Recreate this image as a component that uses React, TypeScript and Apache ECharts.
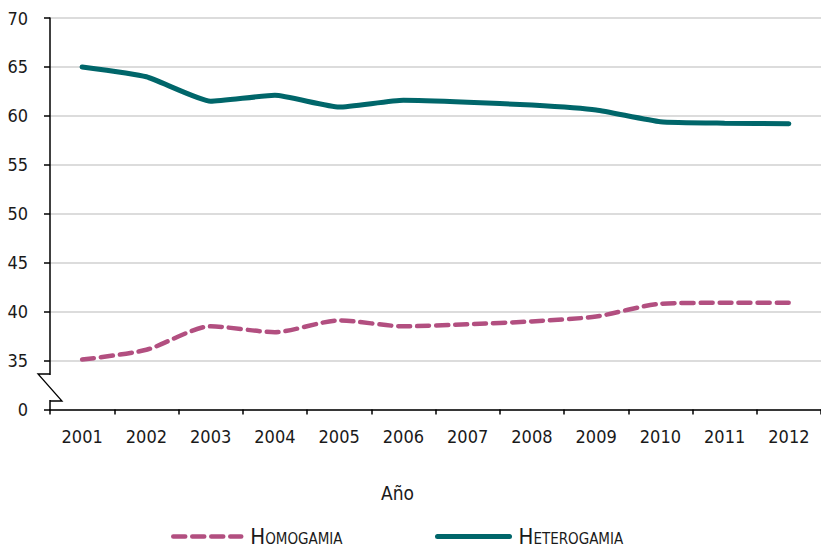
import React, { useEffect, useRef } from "react";
import * as echarts from "echarts";

const years = ["2001", "2002", "2003", "2004", "2005", "2006", "2007", "2008", "2009", "2010", "2011", "2012"];
const homogamia = [35.1, 36.1, 38.5, 37.9, 39.1, 38.5, 38.7, 39.0, 39.5, 40.8, 40.9, 40.9];
const heterogamia = [65.0, 64.0, 61.5, 62.1, 60.9, 61.6, 61.4, 61.1, 60.6, 59.4, 59.25, 59.2];
const yTicks = [30, 35, 40, 45, 50, 55, 60, 65, 70];
const breakLabel = "0";

const FONT = "'DejaVu Sans Condensed', 'Liberation Sans Narrow', sans-serif";
const SC_FONT = "'DejaVu Sans Condensed', sans-serif;font-variant:small-caps";
const PINK = "#b24f80";
const TEAL = "#00666a";

export default function App() {
  const ref = useRef<HTMLDivElement>(null);
  useEffect(() => {
    if (!ref.current) return;
    const chart = echarts.init(ref.current, null, { renderer: "svg" });
    const legendText = {
      fontFamily: SC_FONT,
      fontSize: 22,
      color: "#1a1a1a",
      padding: [0, 0, 0, 4],
    };
    chart.setOption({
      animation: false,
      backgroundColor: "#ffffff",
      grid: { left: 50, right: 0, top: 18, bottom: 139.5, containLabel: false },
      legend: [
        {
          left: 166,
          top: 522,
          itemWidth: 68,
          itemHeight: 14,
          data: ["Homogamia"],
          textStyle: legendText,
          itemStyle: { opacity: 0 },
          lineStyle: { width: 4.5, type: [12, 7], cap: "round", color: PINK },
        },
        {
          left: 430,
          top: 522,
          itemWidth: 72,
          itemHeight: 14,
          data: ["Heterogamia"],
          textStyle: legendText,
          itemStyle: { opacity: 0 },
          lineStyle: { width: 5, cap: "round", color: TEAL },
        },
      ],
      xAxis: {
        type: "category",
        data: years,
        boundaryGap: true,
        name: "Año",
        nameLocation: "middle",
        nameGap: 74,
        nameTextStyle: { fontFamily: FONT, fontSize: 19, color: "#1a1a1a", padding: [0, 76, 0, 0] },
        axisLine: { lineStyle: { color: "#000", width: 1.5 } },
        axisTick: { show: true, length: 5, lineStyle: { color: "#000", width: 1.5 } },
        axisLabel: { fontFamily: FONT, fontSize: 18, color: "#1a1a1a", margin: 18 },
        splitLine: { show: false },
      },
      yAxis: {
        type: "value",
        min: 30,
        max: 70,
        interval: 5,
        axisLine: { show: true, lineStyle: { color: "#000", width: 1.5 } },
        axisTick: { show: true, length: 6, lineStyle: { color: "#000", width: 1.5 } },
        axisLabel: {
          fontFamily: FONT,
          fontSize: 18,
          color: "#1a1a1a",
          margin: 22,
          formatter: (v: number) => (v === yTicks[0] ? breakLabel : String(v)),
        },
        splitLine: { show: true, lineStyle: { color: "#d0d0d0", width: 1.5 } },
      },
      graphic: [
        { type: "rect", shape: { x: 47, y: 375, width: 6, height: 25 }, style: { fill: "#fff" }, z: 100 },
        {
          type: "polyline",
          shape: { points: [[50, 374], [38, 374], [62, 401], [50, 401]] },
          style: { stroke: "#000", lineWidth: 1.3, fill: "none" },
          z: 101,
        },
      ],
      series: [
        {
          name: "Homogamia",
          type: "line",
          data: homogamia,
          smooth: 0.25,
          symbol: "none",
          lineStyle: { color: PINK, width: 4.5, type: [12, 7], cap: "round" },
          itemStyle: { color: PINK },
        },
        {
          name: "Heterogamia",
          type: "line",
          data: heterogamia,
          smooth: 0.15,
          symbol: "none",
          lineStyle: { color: TEAL, width: 5, cap: "round" },
          itemStyle: { color: TEAL },
        },
      ],
    });
    return () => chart.dispose();
  }, []);
  return <div ref={ref} style={{ position: "fixed", left: 0, top: 0, width: 821, height: 549 }} />;
}
